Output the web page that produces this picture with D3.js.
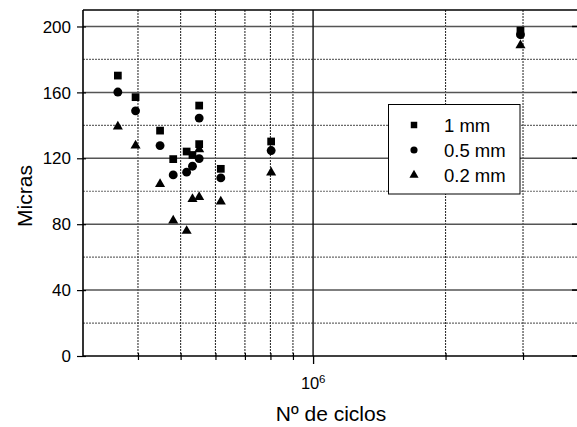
<!DOCTYPE html>
<html>
<head>
<meta charset="utf-8">
<script src="https://cdn.jsdelivr.net/npm/d3@7"></script>
<style>
  html, body { margin: 0; padding: 0; background: #fff; }
  svg { display: block; font-family: "Liberation Sans", Arial, sans-serif; }
</style>
</head>
<body>
<svg id="chart" width="577" height="427"></svg>
<script>
// ---- data ----
const cycles   = [3.60e5, 3.95e5, 4.49e5, 4.81e5, 5.16e5, 5.32e5, 5.51e5, 5.51e5, 6.17e5, 8.03e5, 2.96e6];
const mm1      = [170.2, 157.1, 136.8, 119.5, 124.1, 122.0, 152.0, 128.6, 113.6, 130.2, 197.5];
const mm05     = [160.2, 148.8, 127.7, 109.9, 111.6, 115.2, 144.4, 119.8, 108.1, 124.7, 195.0];
const mm02     = [139.3, 127.7, 104.3, 82.2, 75.9, 95.2, 125.5, 96.4, 93.7, 111.3, 188.6];
const seriesNames = ["1 mm", "0.5 mm", "0.2 mm"];
const yTicks   = [0, 40, 80, 120, 160, 200];
const yMinor   = [20, 60, 100, 140, 180];
const xMinor   = [4e5, 5e5, 6e5, 7e5, 8e5, 9e5, 2e6, 3e6];
const xMajor   = [1e6];
const xTitle   = "Nº de ciclos";
const yTitle   = "Micras";

const series = [
  { name: seriesNames[0], values: mm1,  sym: d3.symbolSquare,   size: 60, lsize: 42 },
  { name: seriesNames[1], values: mm05, sym: d3.symbolCircle,   size: 62, lsize: 40 },
  { name: seriesNames[2], values: mm02, sym: d3.symbolTriangle, size: 44, lsize: 36 }
];

// ---- layout ----
const L = 83, R = 578, T = 10, B = 356;
const svg = d3.select("#chart");
const x = d3.scaleLog().domain([3e5, 4e6]).range([L, R]);
const y = d3.scaleLinear().domain([0, 210]).range([B, T]);

// grid: minor horizontal dotted
svg.append("g").selectAll("line").data(yMinor).join("line")
  .attr("x1", L).attr("x2", R).attr("y1", d => y(d)).attr("y2", d => y(d))
  .attr("stroke", "#6a6a6a").attr("stroke-width", 1.2).attr("stroke-dasharray", "2,1");
// grid: minor vertical dotted
svg.append("g").selectAll("line").data(xMinor).join("line")
  .attr("x1", d => x(d)).attr("x2", d => x(d)).attr("y1", T).attr("y2", B)
  .attr("stroke", "#333").attr("stroke-width", 1.1).attr("stroke-dasharray", "2,1");
// grid: major horizontal solid
svg.append("g").selectAll("line").data(yTicks.filter(d => d > 0)).join("line")
  .attr("x1", L).attr("x2", R).attr("y1", d => y(d)).attr("y2", d => y(d))
  .attr("stroke", "#555").attr("stroke-width", 1.5);
// grid: major vertical solid
svg.append("g").selectAll("line").data(xMajor).join("line")
  .attr("x1", d => x(d)).attr("x2", d => x(d)).attr("y1", T).attr("y2", B)
  .attr("stroke", "#111").attr("stroke-width", 1.4);

// frame
svg.append("line").attr("x1", L).attr("x2", R).attr("y1", T).attr("y2", T)
  .attr("stroke", "#000").attr("stroke-width", 1.4);
svg.append("line").attr("x1", R).attr("x2", R).attr("y1", T).attr("y2", B)
  .attr("stroke", "#000").attr("stroke-width", 1.4);

// left axis
const yAxis = d3.axisLeft(y).tickValues(yTicks).tickSize(6).tickPadding(6);
const gy = svg.append("g").attr("transform", `translate(${L},0)`).call(yAxis);
gy.select(".domain").attr("stroke", "#000").attr("stroke-width", 1.6).attr("d", `M0,${T}V${B}`);
gy.selectAll(".tick line").attr("stroke", "#000").attr("stroke-width", 1.2).attr("x1", 3);
gy.selectAll(".tick text").attr("font-size", 17).attr("fill", "#000")
  .attr("font-family", "Liberation Sans, Arial, sans-serif").attr("dy", "0.33em");

// right axis inward ticks
svg.append("g").selectAll("line").data(yTicks).join("line")
  .attr("x1", R - 6).attr("x2", R).attr("y1", d => y(d)).attr("y2", d => y(d))
  .attr("stroke", "#000").attr("stroke-width", 1.5);

// bottom axis
const xAxis = d3.axisBottom(x).tickValues(xMajor).tickSize(8).tickFormat(() => "");
const gx = svg.append("g").attr("transform", `translate(0,${B})`).call(xAxis);
gx.select(".domain").attr("stroke", "#000").attr("stroke-width", 1.6).attr("d", `M${L},0H${R}`);
gx.selectAll(".tick line").attr("stroke", "#000").attr("stroke-width", 1.3);
const xAxisMinor = d3.axisBottom(x).tickValues(xMinor).tickSize(4).tickFormat(() => "");
const gxm = svg.append("g").attr("transform", `translate(0,${B})`).call(xAxisMinor);
gxm.select(".domain").remove();
gxm.selectAll(".tick line").attr("stroke", "#000").attr("stroke-width", 1.2).attr("y1", -3);

// 10^6 label
xMajor.forEach(v => {
  svg.append("text").attr("x", x(v) - 3).attr("y", 389)
    .attr("text-anchor", "middle").attr("font-size", 16.5).attr("fill", "#000").text("10");
  svg.append("text").attr("x", x(v) + 6).attr("y", 383)
    .attr("font-size", 11.5).attr("fill", "#000").text(Math.round(Math.log10(v)));
});

// axis titles
svg.append("text").attr("x", 331).attr("y", 421).attr("text-anchor", "middle")
  .attr("font-size", 21).attr("fill", "#000").text(xTitle);
svg.append("text").attr("transform", "translate(31.5,196) rotate(-90)")
  .attr("text-anchor", "middle").attr("font-size", 21).attr("fill", "#000").text(yTitle);

// points
series.forEach(s => {
  svg.append("g").selectAll("path").data(s.values).join("path")
    .attr("d", d3.symbol().type(s.sym).size(s.size))
    .attr("transform", (d, i) => `translate(${x(cycles[i])},${y(d)})`)
    .attr("fill", "#000");
});

// legend
const lg = svg.append("g");
lg.append("rect").attr("x", 388.5).attr("y", 104.5).attr("width", 131.5).attr("height", 89.5)
  .attr("fill", "#fff").attr("stroke", "#000").attr("stroke-width", 1);
const rowsY = [125, 150, 175];
series.forEach((s, i) => {
  lg.append("path").attr("d", d3.symbol().type(s.sym).size(s.lsize))
    .attr("transform", `translate(414,${rowsY[i]})`).attr("fill", "#000");
  lg.append("text").attr("x", 444).attr("y", rowsY[i] + 6.5)
    .attr("font-size", 18.5).attr("fill", "#000").text(s.name);
});
</script>
</body>
</html>
